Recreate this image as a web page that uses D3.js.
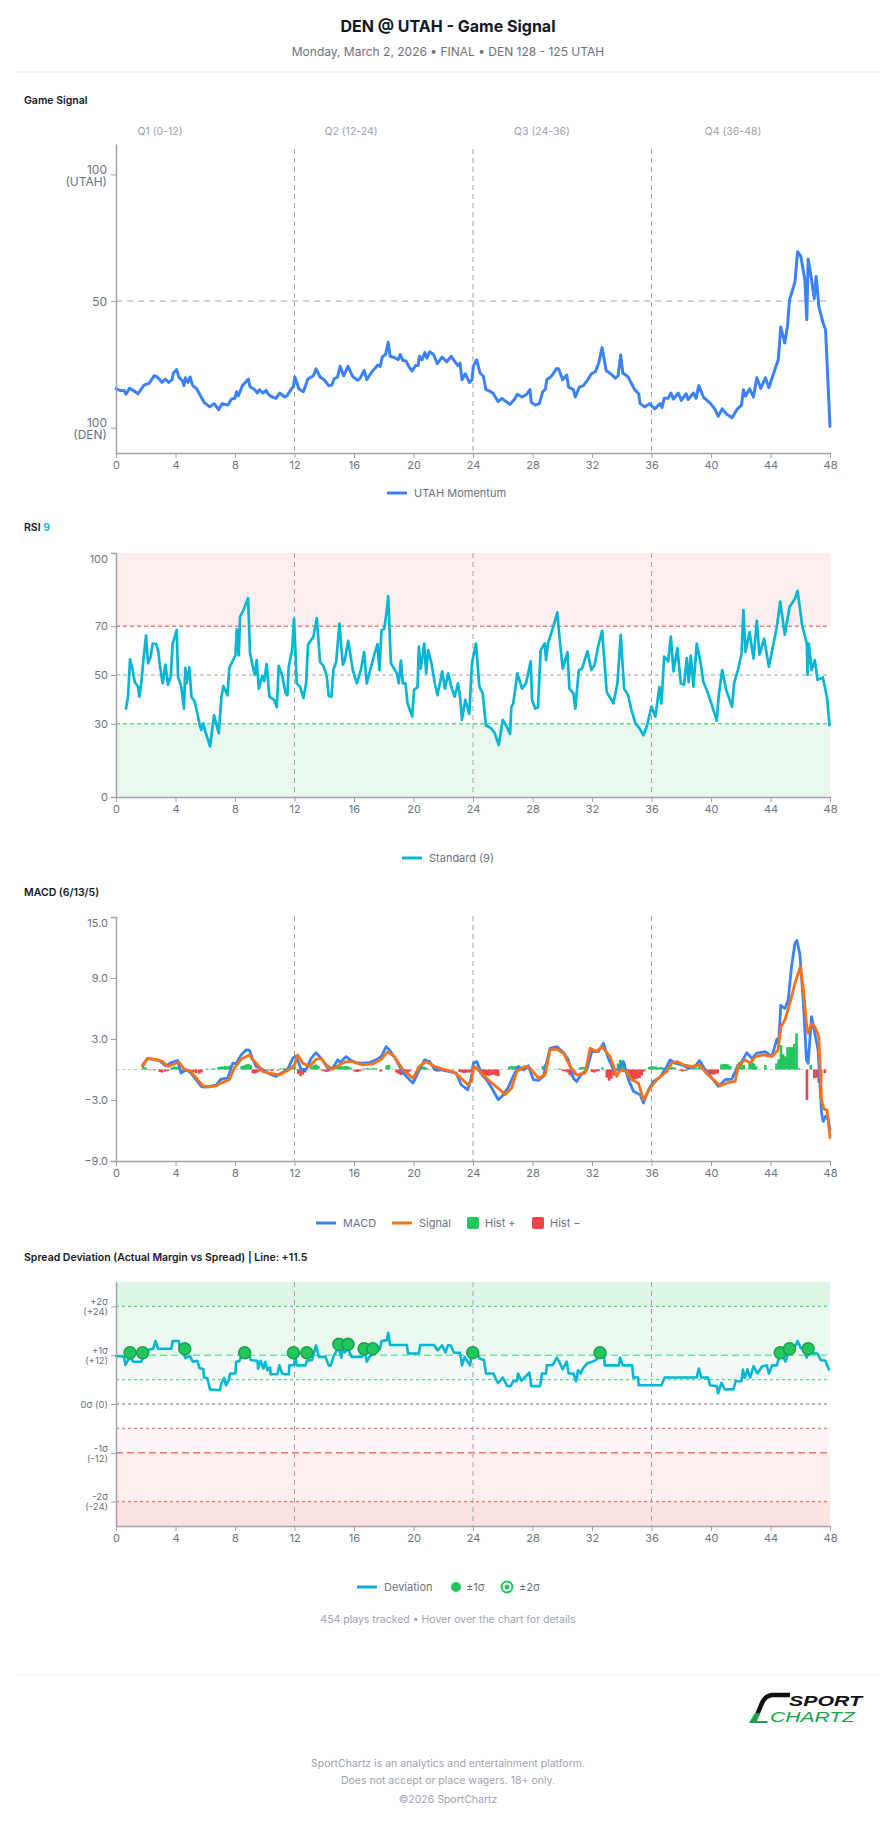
<!DOCTYPE html>
<html>
<head>
<meta charset="utf-8">
<script src="https://cdn.jsdelivr.net/npm/d3@7"></script>
<style>
  body { margin: 0; background: #fff; }
  svg text { font-family: Inter, "Noto Sans", sans-serif; }
  svg text.logo { font-family: "Liberation Sans", Arial, sans-serif; }
</style>
</head>
<body>
<svg id="chart" width="896" height="1824"></svg>
<script>
// Game signal page: momentum, RSI, MACD, spread deviation.

const xTicks = [0, 4, 8, 12, 16, 20, 24, 28, 32, 36, 40, 44, 48];
const quarterBreaks = [12, 24, 36];
const quarterLabels = ['Q1 (0-12)', 'Q2 (12-24)', 'Q3 (24-36)', 'Q4 (36-48)'];

// [minute, momentum 0 = DEN 100 .. 100 = UTAH 100]
const momentum = [
  [0,15.3],[0.27,14.7],[0.54,14.7],[0.67,13.2],[0.9,15.5],[1.17,14.7],[1.48,13.4],[1.88,16.8],[2.24,17.6],
  [2.56,20.5],[2.78,20],[3.09,17.9],[3.32,19.2],[3.54,17.9],[3.77,19],[3.86,21.6],[4.08,22.9],[4.22,20],
  [4.48,18.3],[4.57,16.6],[4.66,19.7],[4.84,17.9],[4.98,20],[5.16,16.6],[5.43,15.3],[5.65,12.9],[5.92,10],
  [6.3,8.2],[6.6,9.5],[6.9,7.1],[7.13,9.5],[7.53,8.9],[7.76,11.3],[8.0,11.6],[8.1,14.2],[8.23,12.6],
  [8.5,16.6],[8.9,19.2],[9.0,16.3],[9.33,15],[9.5,13.7],[9.64,15],[9.87,13.7],[10.1,14.7],[10.22,13.4],
  [10.4,12.4],[10.76,11.6],[11.0,13.7],[11.35,12.1],[11.5,12.6],[11.75,15],[11.93,16.3],[12.02,20],
  [12.15,17.9],[12.3,15.3],[12.6,14.2],[12.9,19.2],[13.27,20.5],[13.45,23.2],[13.72,20],[13.99,18.9],
  [14.3,16.6],[14.5,16.8],[14.66,19.2],[14.89,20],[15.07,24.2],[15.3,20.5],[15.6,24.2],[15.9,20.3],
  [16.24,18.7],[16.41,19.5],[16.68,22.6],[16.86,19],[17.17,21.8],[17.4,23.4],[17.6,24.7],[17.76,24.2],
  [17.9,27.9],[18.12,28.9],[18.3,33.7],[18.43,28.2],[18.74,27.6],[18.97,26.8],[19.1,28.9],[19.28,26.6],
  [19.5,26.3],[19.7,24],[19.9,22.4],[20.13,24.5],[20.31,24.5],[20.4,28.2],[20.58,26.8],[20.76,29.7],
  [20.9,27.4],[21.09,30],[21.35,28.9],[21.6,25.3],[21.92,27.9],[22.23,26],[22.54,28.2],[22.77,26.1],
  [22.99,24.5],[23.13,25.5],[23.26,18.9],[23.48,21.3],[23.75,17.9],[23.93,18.9],[24.02,24.2],[24.25,26.8],
  [24.47,21.6],[24.7,20.3],[24.87,15],[25.19,14.2],[25.37,13.4],[25.68,10.3],[25.95,11.6],[26.17,10.5],
  [26.49,9.2],[26.8,11.3],[26.98,13.2],[27.3,12.1],[27.61,13.2],[27.83,15],[27.92,10],[28.19,8.9],
  [28.46,9.5],[28.69,14.2],[28.87,15.3],[28.96,18.9],[29.27,20.3],[29.63,23.4],[29.76,23.2],[30.03,18.9],
  [30.3,20.8],[30.43,16],[30.75,15],[30.88,12.1],[31.15,16],[31.42,16.6],[31.69,18.7],[31.96,21.3],
  [32.23,22.1],[32.45,25.5],[32.68,31.6],[32.95,22.6],[33.3,21.1],[33.57,19.5],[33.75,20.5],[33.93,28.7],
  [34.07,21.6],[34.43,20],[34.87,15],[35.14,13.4],[35.23,9.5],[35.54,8.2],[35.86,9.5],[36.22,7.4],
  [36.58,9.5],[36.71,7.9],[36.85,11.6],[37.12,11.6],[37.3,13.7],[37.48,11.3],[37.79,13.7],[38.01,10.8],
  [38.33,13.4],[38.46,11.1],[38.82,13.7],[39.0,11.6],[39.18,16.6],[39.49,12.1],[39.94,9.7],[40.26,7.4],
  [40.48,4.5],[40.75,7.4],[41.06,5.3],[41.42,3.9],[41.73,7.1],[42.05,8.9],[42.18,15],[42.32,12.4],
  [42.59,15.3],[42.86,12.1],[43.08,19.7],[43.35,15.5],[43.66,19.7],[43.89,15.8],[44.29,22.9],[44.52,26.8],
  [44.69,39.7],[44.96,33.4],[45.14,40],[45.28,50.5],[45.64,57.4],[45.82,69.5],[46.04,67.6],[46.31,58.4],
  [46.44,42.6],[46.53,66.6],[46.76,58.4],[46.94,51],[47.07,59.7],[47.25,47.9],[47.52,41.6],[47.7,38.7],
  [48,0.5]
];

// [minute, RSI(9)]
const rsi = [
  [0.67,36.2],[0.81,41.1],[0.94,56.4],[1.12,52],[1.26,47.1],[1.48,45.2],[1.57,41.1],[1.7,46.6],[1.84,56.1],
  [2.02,66.2],[2.15,54.8],[2.33,57.5],[2.47,62.9],[2.69,62.7],[2.83,60.2],[2.96,53.4],[3.14,46.6],[3.32,54.2],
  [3.5,46],[3.68,49.3],[3.81,62.9],[4.08,68.4],[4.17,49.3],[4.39,45.2],[4.57,36.2],[4.66,52.9],[4.75,46.6],
  [4.93,53.1],[5.07,41.1],[5.29,39.2],[5.47,34.3],[5.65,28.9],[5.74,27.5],[5.87,30.2],[6.01,26.7],[6.19,23.4],
  [6.32,20.7],[6.59,33.5],[6.73,30.2],[6.91,26.2],[7.09,41.1],[7.22,45.5],[7.49,41.7],[7.62,52.9],[7.89,56.4],
  [8.03,58],[8.12,68.7],[8.25,58],[8.34,73.8],[8.57,76.6],[8.88,81.5],[9.01,58.9],[9.19,53.7],[9.33,50.1],
  [9.46,56.1],[9.6,44.4],[9.82,49.6],[9.96,47.4],[10.13,54.5],[10.31,41.1],[10.63,39.8],[10.81,36.8],
  [10.94,53.7],[11.17,49.9],[11.39,42.8],[11.52,41.7],[11.61,53.4],[11.84,60.2],[11.97,73],[12.15,46.6],
  [12.38,45],[12.6,40.6],[12.78,46.6],[12.91,62.4],[13.27,65.7],[13.5,73.3],[13.72,55.3],[13.95,53.7],
  [14.17,49.3],[14.3,41.4],[14.48,41.1],[14.62,52.3],[14.8,55.3],[15.02,71.1],[15.25,54.2],[15.38,56.1],
  [15.61,64],[15.92,52],[16.19,46.6],[16.46,52],[16.68,59.4],[16.86,46.6],[17.09,52],[17.35,58],[17.58,62.7],
  [17.71,52],[17.85,68.4],[18.03,68.9],[18.21,76.6],[18.3,82.3],[18.48,54.8],[18.88,50.7],[19.01,46.6],
  [19.15,55.9],[19.28,46.6],[19.46,46.6],[19.6,38.4],[19.91,33],[20.04,43.9],[20.27,45],[20.36,61.6],
  [20.49,52.6],[20.72,62.9],[20.85,50.7],[20.99,60.2],[21.21,54.8],[21.43,46.6],[21.61,41.7],[21.93,51.5],
  [22.11,44.4],[22.33,50.7],[22.54,45.2],[22.77,41.1],[22.99,46.6],[23.13,41.1],[23.26,31.6],[23.48,39.8],
  [23.75,34.1],[23.93,54.8],[24.2,62.9],[24.43,45.2],[24.65,42.5],[24.87,29.4],[25.23,28.1],[25.46,26.2],
  [25.73,21.3],[26.0,31.6],[26.26,28.9],[26.49,25.9],[26.58,36.8],[26.71,38.4],[26.98,50.7],[27.3,44.4],
  [27.57,46.6],[27.88,55.6],[27.97,39.8],[28.19,36.2],[28.37,36.8],[28.55,60.2],[28.82,62.9],[28.91,56.1],
  [29.04,62.9],[29.4,69.8],[29.67,75.7],[29.81,65.7],[30.03,52.6],[30.35,59.4],[30.48,44.4],[30.75,42.5],
  [30.88,36.2],[31.11,52],[31.33,52.6],[31.69,59.7],[31.96,52],[32.18,54.2],[32.41,61.6],[32.68,68.1],
  [32.99,43],[33.44,38.4],[33.71,46.6],[33.93,66.5],[34.16,44.4],[34.43,41.7],[34.65,35.7],[34.92,30.2],
  [35.19,28.1],[35.46,25.3],[35.68,28.9],[36.0,37.1],[36.26,33],[36.53,45],[36.67,38.4],[36.85,57.5],
  [37.12,55.6],[37.3,65.7],[37.48,51.5],[37.74,61],[37.97,46.6],[38.19,46],[38.37,56.9],[38.5,47.1],
  [38.64,58],[38.82,45.2],[39.04,62.9],[39.27,56.1],[39.49,47.1],[39.8,42.5],[40.16,35.7],[40.39,31.3],
  [40.52,41.7],[40.75,52],[41.02,43.9],[41.42,37],[41.55,46.6],[41.82,52.3],[42.05,58.6],[42.18,76.6],
  [42.32,59.4],[42.59,67.6],[42.86,56.7],[43.08,72.2],[43.26,58.3],[43.57,64.9],[43.89,53.4],[44.25,64.3],
  [44.43,69.8],[44.65,80.1],[44.96,66.5],[45.28,77.9],[45.64,81.2],[45.82,84.5],[46.13,70.3],[46.44,62.9],
  [46.49,50.1],[46.58,62.9],[46.76,52],[46.98,56.1],[47.16,48],[47.52,49],[47.79,41.1],[47.97,29.4]
];

// [minute, MACD]
const macd = [
  [1.79,0.46],[2.13,1.1],[2.47,1.0],[2.91,0.88],[3.36,0.36],[3.7,0.68],[4.15,0.88],[4.37,-0.36],[4.71,0],
  [5.04,-0.36],[5.38,-1.0],[5.72,-1.66],[5.94,-1.73],[6.28,-1.66],[6.73,-1.53],[7.06,-0.95],[7.51,-0.85],
  [7.85,0.62],[8.07,0.55],[8.41,1.43],[8.74,1.92],[8.97,1.9],[9.19,1.0],[9.42,0.3],[9.87,0],[10.2,-0.36],
  [10.76,-0.68],[11.1,-0.36],[11.55,0.03],[11.88,1.1],[12.11,1.34],[12.44,0],[12.78,0],[13.12,1.1],
  [13.45,1.66],[13.79,1.1],[14.24,0.13],[14.57,0.13],[14.91,0.95],[15.07,0.68],[15.47,1.27],[15.81,0.88],
  [16.14,0.68],[16.59,0.62],[17.04,0.68],[17.49,0.95],[17.83,1.27],[18.16,2.25],[18.39,1.92],[18.83,0.95],
  [19.28,-0.29],[19.73,-1.0],[19.96,-1.34],[20.29,-0.36],[20.74,0.95],[21.08,0.78],[21.41,0.03],[21.86,-0.03],
  [22.42,-0.2],[22.87,-0.36],[23.21,-1.5],[23.65,-2.0],[23.88,-0.85],[24.02,0.62],[24.25,0.78],[24.6,-0.52],
  [24.9,-1.0],[25.26,-1.83],[25.7,-2.97],[26.04,-2.48],[26.38,-1.73],[26.7,-0.68],[27.05,0.3],[27.39,-0.03],
  [27.72,0.36],[28.06,-1.0],[28.4,-1.08],[28.73,-0.68],[29.18,2.09],[29.63,2.25],[30.08,1.66],[30.41,0.95],
  [30.75,-0.85],[30.97,-1.17],[31.31,-0.42],[31.65,-0.03],[31.98,1.76],[32.43,1.76],[32.77,2.58],[33.1,1.1],
  [33.44,-0.03],[33.78,-0.03],[34.11,0.78],[34.45,-1.0],[34.79,-2.15],[35.24,-2.48],[35.46,-3.3],[35.8,-2.0],
  [36.13,-1.17],[36.58,-0.75],[37.03,0.3],[37.25,0.95],[37.59,0.62],[38.04,0.46],[38.49,0.13],[38.93,0.3],
  [39.23,0.88],[39.61,-0.03],[40.06,-0.85],[40.5,-1.66],[40.95,-1.0],[41.4,-0.95],[41.74,0.13],[42.07,0.78],
  [42.41,1.66],[42.75,1.1],[43.08,1.6],[43.64,1.76],[44.09,1.27],[44.43,3.0],[44.55,2.6],[44.69,6.3],
  [44.96,6.0],[45.19,6.8],[45.41,10.1],[45.64,12.4],[45.77,12.7],[45.97,11.4],[46.2,6.8],[46.42,0.95],
  [46.53,0.62],[46.76,5.2],[46.98,3.55],[47.2,1.92],[47.43,-4.27],[47.54,-5.1],[47.7,-4.6],[47.88,-4.9],[48,-5.9]
];

// [minute, signal]
const macdSignal = [
  [1.79,0.3],[2.13,1.1],[2.69,1.0],[3.14,0.78],[3.48,0.3],[4.04,0.62],[4.26,0.68],[4.6,0],[5.04,-0.2],
  [5.49,-1.0],[5.83,-1.6],[6.17,-1.73],[6.73,-1.6],[7.06,-1.34],[7.62,-1.0],[7.96,0.13],[8.41,1.0],
  [8.97,1.43],[9.19,0.95],[9.53,0.46],[9.87,-0.2],[10.31,-0.36],[10.99,-0.52],[11.66,0],[12.0,0.46],
  [12.22,1.43],[12.56,0.62],[13.0,0.3],[13.45,1.0],[13.79,1.1],[14.13,0.46],[14.57,0.03],[15.02,0.46],
  [15.47,0.78],[15.92,0.78],[16.59,0.46],[17.26,0.55],[17.83,1.0],[18.27,1.76],[18.72,1.27],[19.28,0],
  [19.96,-0.85],[20.4,0.3],[20.85,0.78],[21.41,0.3],[21.97,0.03],[22.65,-0.2],[23.09,-0.68],[23.65,-1.5],
  [23.88,-1.17],[24.07,0.3],[24.47,-0.2],[25.14,-1.17],[25.82,-2.0],[26.15,-2.48],[26.6,-1.83],[26.94,-0.2],
  [27.5,0.3],[27.84,0.13],[28.4,-0.85],[28.85,-0.52],[29.18,1.92],[29.63,2.0],[30.08,1.6],[30.53,0.3],
  [30.97,-0.52],[31.54,-0.36],[31.87,2.09],[32.32,1.76],[32.66,2.25],[33.22,1.27],[33.67,-0.68],[33.9,-0.03],
  [34.34,-0.2],[34.67,-1.0],[35.12,-1.34],[35.46,-2.97],[35.91,-1.83],[36.36,-1.0],[37.03,-0.2],[37.36,0.62],
  [37.7,0.78],[38.15,0.46],[38.71,0.3],[39.23,0.46],[39.72,-0.42],[40.17,-1.0],[40.62,-1.6],[41.18,-1.27],
  [41.63,-1.17],[41.85,0.46],[42.3,0.95],[42.63,0.62],[43.0,1.27],[43.53,1.43],[44.09,1.27],[44.5,1.9],
  [44.7,4.2],[44.96,4.86],[45.3,6.5],[45.64,8.45],[46.0,10.08],[46.2,8.1],[46.42,4.5],[46.53,3.55],
  [46.76,4.5],[46.98,4.2],[47.25,3.2],[47.43,-3.0],[47.6,-3.9],[47.8,-4.0],[48,-6.7]
];

// [minute, histogram]
const macdHist = [
  [1.85,0.25],[2.0,0.2],[2.3,-0.08],[2.6,-0.08],[2.95,-0.25],[3.1,-0.3],[3.3,-0.2],[3.5,-0.15],
  [3.75,0.2],[3.9,0.3],[4.05,0.3],[4.2,0.2],[4.5,-0.1],[4.7,-0.2],[4.85,-0.25],[5.0,-0.2],[5.2,-0.3],
  [5.4,-0.35],[5.6,-0.4],[5.75,-0.3],[6.1,0.1],[6.4,0.08],[6.6,0.1],[6.9,0.25],[7.05,0.3],[7.2,0.3],
  [7.35,0.35],[7.5,0.3],[7.65,0.4],[8.45,0.35],[8.6,0.4],[8.75,0.5],[8.9,0.55],[9.05,0.45],[9.2,-0.35],
  [9.35,-0.4],[9.5,-0.3],[9.65,-0.2],[9.8,-0.1],[10.1,-0.1],[10.3,-0.1],[10.5,-0.15],[10.9,-0.1],
  [11.1,0.1],[11.3,0.15],[11.5,0.1],[11.85,0.3],[12.0,0.35],[12.25,-0.45],[12.4,-0.65],[12.55,-0.5],
  [12.7,-0.3],[13.15,0.3],[13.3,0.45],[13.45,0.5],[13.6,0.35],[13.85,-0.1],[14.0,-0.2],[14.15,-0.25],
  [14.3,-0.2],[14.45,-0.1],[14.85,0.2],[15.0,0.3],[15.15,0.35],[15.3,0.3],[15.45,0.35],[15.6,0.3],
  [15.75,0.2],[16.05,-0.2],[16.2,-0.25],[16.35,-0.2],[16.5,-0.1],[16.7,0.1],[16.9,0.15],[17.1,0.1],
  [17.3,0.15],[17.5,0.1],[17.8,-0.2],[18.2,0.4],[18.35,0.45],[18.85,-0.3],[19.0,-0.45],[19.15,-0.55],
  [19.3,-0.5],[19.45,-0.4],[19.6,-0.35],[19.75,-0.2],[20.3,0.3],[20.45,0.35],[20.6,0.3],[20.75,0.25],
  [20.9,0.15],[21.4,-0.1],[21.55,-0.2],[21.7,-0.2],[21.9,-0.15],[22.1,-0.1],[23.1,-0.25],[23.25,-0.3],
  [23.4,-0.35],[23.55,-0.3],[23.7,-0.3],[23.85,-0.25],[24.0,0.45],[24.15,0.35],[24.5,-0.45],[24.65,-0.55],
  [24.8,-0.6],[24.95,-0.6],[25.1,-0.6],[25.25,-0.55],[25.4,-0.5],[25.55,-0.6],[25.7,-0.65],[26.45,0.3],
  [26.6,0.35],[26.75,0.3],[26.9,0.35],[27.4,0.1],[27.6,0.05],[28.7,0.35],[28.85,0.5],[29.8,0.1],
  [30.05,-0.15],[30.2,-0.2],[30.35,-0.3],[30.5,-0.55],[30.65,-0.75],[30.8,-0.5],[31.2,0.2],[31.35,0.25],
  [31.5,0.25],[31.65,0.3],[32.0,-0.25],[32.15,-0.3],[32.3,-0.2],[32.45,-0.15],[32.7,0.2],[33.0,-0.8],
  [33.15,-1.1],[33.3,-0.9],[33.45,-0.6],[33.75,0.6],[33.9,0.95],[34.05,0.9],[34.2,0.6],[34.45,-0.6],
  [34.6,-0.85],[34.75,-1.0],[34.9,-0.95],[35.05,-0.9],[35.2,-0.85],[35.35,-0.6],[35.5,-0.2],[35.85,0.25],
  [36.0,0.35],[36.15,0.3],[36.3,0.3],[36.45,0.2],[36.6,0.25],[36.75,0.2],[37.1,0.35],[37.25,0.35],
  [37.4,0.25],[37.55,0.2],[37.9,-0.1],[38.05,-0.2],[38.2,-0.15],[38.35,-0.1],[38.6,0.1],[38.8,0.2],
  [39.0,0.2],[39.2,0.3],[39.4,0.15],[39.55,-0.2],[39.7,-0.35],[39.85,-0.45],[40.0,-0.5],[40.15,-0.5],
  [40.3,-0.45],[40.45,-0.4],[40.7,0.5],[40.85,0.55],[41.0,0.55],[41.15,0.5],[41.3,0.35],[41.75,0.5],
  [41.9,0.75],[42.05,0.7],[42.2,0.45],[42.6,0.6],[42.75,0.85],[42.9,0.6],[43.05,0.3],[43.65,0.45],
  [44.4,0.6],[44.55,1.0],[44.7,2.4],[44.85,1.5],[45.0,1.3],[45.15,2.2],[45.3,2.2],[45.45,2.2],[45.6,2.5],
  [45.75,3.55],[45.9,0.15],[46.45,-3.0],[46.7,0.45],[46.95,-0.85],[47.1,-0.8],[47.25,-1.3],[47.4,-1.2],
  [47.65,-0.35]
];

// [minute, actual margin minus spread]
const deviation = [
  [0,11.8],[0.54,11.6],[0.63,9.6],[0.81,10.8],[0.99,11.4],[1.17,10.4],[1.7,10.4],[1.84,11.6],[2.24,13.4],
  [2.51,13.6],[2.65,15.5],[2.83,13.6],[3.72,13.6],[3.81,15.5],[4.22,15.5],[4.3,13.6],[4.57,12.4],[4.66,11.3],
  [4.97,11.8],[5.16,10.4],[5.47,10.6],[5.61,8.8],[5.87,8.6],[5.92,6.5],[6.14,6.4],[6.32,3.6],[6.99,3.4],
  [7.08,5.1],[7.26,6.4],[7.4,4.6],[7.58,5.9],[7.67,7.5],[8.03,7.5],[8.07,10.4],[8.3,10.6],[8.43,11.8],
  [8.97,11.8],[9.06,10.8],[9.51,10.6],[9.55,8.7],[9.73,10.6],[9.91,8.7],[10.04,10.4],[10.18,8.3],[10.36,9.0],
  [10.4,7.3],[10.85,7.3],[10.99,9.5],[11.17,7.5],[11.39,7.3],[11.61,7.3],[11.66,9.5],[11.97,9.6],[12.06,11.8],
  [12.15,9.5],[12.74,9.5],[12.83,10.6],[13.18,10.8],[13.45,14.4],[13.63,11.6],[14.08,11.6],[14.3,9.5],
  [14.44,9.5],[14.62,11.6],[14.84,13.2],[14.98,13.6],[15.16,11.4],[15.25,13.6],[15.38,12.7],[15.61,13.6],
  [15.83,11.6],[16.55,11.6],[16.68,13.6],[16.86,10.4],[17.04,11.6],[17.75,13.6],[17.85,15.5],[18.21,15.7],
  [18.3,17.5],[18.43,14.5],[19.55,14.5],[19.64,12.4],[20.36,12.4],[20.45,14.5],[21.39,14.5],[21.61,13.2],
  [21.93,14.4],[22.15,12.7],[22.33,14.5],[22.5,14.4],[22.72,12.6],[23.13,12.6],[23.26,9.5],[23.44,11.6],
  [23.57,10.8],[23.8,9.5],[23.93,12.6],[24.25,12.7],[24.47,11.1],[24.74,10.8],[24.87,7.5],[25.37,7.5],
  [25.68,5.1],[26.0,6.5],[26.31,4.4],[26.53,4.4],[26.71,5.6],[26.94,5.6],[27.03,7.5],[27.25,5.7],[27.52,6.7],
  [27.79,7.7],[27.92,4.4],[28.51,4.4],[28.64,7.5],[28.91,7.5],[28.96,9.5],[29.36,9.6],[29.63,11.4],
  [29.81,10.3],[30.03,8.5],[30.3,10.4],[30.43,7.5],[30.75,7.5],[30.93,5.6],[31.06,8.3],[31.24,7.5],
  [31.38,8.7],[31.69,10],[32.0,10.4],[32.27,10.8],[32.54,12.4],[32.81,11.6],[32.86,9.5],[33.8,9.5],
  [33.89,11.4],[34.07,9.5],[34.7,9.5],[34.78,6.5],[35.1,6.5],[35.14,4.6],[36.67,4.6],[36.89,6.5],
  [39.04,6.5],[39.18,8.7],[39.36,6.5],[39.8,6.5],[39.94,4.6],[40.39,4.4],[40.48,2.6],[40.7,5.2],[40.93,3.6],
  [41.51,3.6],[41.65,5.6],[42.05,5.6],[42.14,8.5],[42.27,6.4],[42.45,8.5],[42.63,6.5],[42.86,9.3],
  [43.13,7.5],[43.44,9.3],[43.75,9.5],[43.89,7.5],[44.11,9.5],[44.43,9.5],[44.65,12.6],[45.01,10.4],
  [45.28,13.6],[45.59,13.7],[45.82,15.5],[46.04,13.7],[46.22,13.6],[46.44,11.4],[46.67,13.6],[46.89,12.4],
  [47.16,12.4],[47.38,10.8],[47.7,10.6],[47.92,8.5]
];

// plays that crossed +1 sigma: [minute, deviation]
const sigmaHits = [
  [0.94,12.6],[1.79,12.6],[4.62,13.6],[8.65,12.6],[11.93,12.6],[12.83,12.6],[14.98,14.7],[15.6,14.7],
  [16.68,13.6],[17.26,13.6],[23.98,12.6],[32.54,12.6],[44.65,12.6],[45.28,13.6],[46.53,13.6]
];

const rsiTicks = [0, 30, 50, 70, 100];
const macdTicks = [-9, -3, 3, 9, 15];
const devTicks = [
  { v: 24, l: ['+2σ', '(+24)'] }, { v: 12, l: ['+1σ', '(+12)'] }, { v: 0, l: ['0σ (0)'] },
  { v: -12, l: ['-1σ', '(-12)'] }, { v: -24, l: ['-2σ', '(-24)'] }
];

const FONT = 'Inter, "Noto Sans", sans-serif';
const AX = '#a1a1aa', LBL = '#6b7280', SOFT = '#9ca3af';
const BLUE = '#3b82f6', CYAN = '#06b6d4', ORANGE = '#f97316', GREEN = '#22c55e', RED = '#ef4444';

const svg = d3.select('#chart');
const x = d3.scaleLinear().domain([0, 48]).range([116, 830]);

function txt(xp, yp, s, o = {}) {
  return svg.append('text').attr('x', xp).attr('y', yp).attr('dy', '0.35em')
    .attr('text-anchor', o.anchor || 'start').attr('font-size', o.size || 11)
    .attr('font-weight', o.weight || 400).attr('fill', o.fill || LBL).text(s);
}

function styleAxis(g, size) {
  g.attr('font-family', FONT).attr('font-size', size || 11);
  g.select('.domain').attr('stroke', AX).attr('stroke-width', 1.5);
  g.selectAll('.tick line').attr('stroke', AX);
  g.selectAll('.tick text').attr('fill', LBL);
}

function xAxis(y0) {
  const g = svg.append('g').attr('transform', `translate(0,${y0})`)
    .call(d3.axisBottom(x).tickValues(xTicks).tickSize(5).tickSizeOuter(0));
  styleAxis(g);
}

function quarterLines(top, bottom) {
  svg.append('g').selectAll('line').data(quarterBreaks).join('line')
    .attr('x1', d => x(d)).attr('x2', d => x(d)).attr('y1', top).attr('y2', bottom)
    .attr('stroke', SOFT).attr('stroke-width', 1).attr('stroke-dasharray', '5,4');
}

function hline(y, color, dash, width) {
  svg.append('line').attr('x1', x(0)).attr('x2', x(48)).attr('y1', y).attr('y2', y)
    .attr('stroke', color).attr('stroke-width', width || 1).attr('stroke-dasharray', dash);
}

function band(y0, y1, fill) {
  svg.append('rect').attr('x', x(0)).attr('width', x(48) - x(0))
    .attr('y', Math.min(y0, y1)).attr('height', Math.abs(y1 - y0)).attr('fill', fill);
}

function path(data, y, color, w) {
  svg.append('path').datum(data)
    .attr('d', d3.line().x(d => x(d[0])).y(d => y(d[1])))
    .attr('fill', 'none').attr('stroke', color).attr('stroke-width', w || 2.6)
    .attr('stroke-linejoin', 'round').attr('stroke-linecap', 'round');
}

function legendLine(x0, y0, color, label) {
  svg.append('line').attr('x1', x0).attr('x2', x0 + 20).attr('y1', y0).attr('y2', y0)
    .attr('stroke', color).attr('stroke-width', 3);
  txt(x0 + 27, y0, label, { size: 11 });
}

// ---- header ----
txt(448, 26, 'DEN @ UTAH - Game Signal', { anchor: 'middle', size: 16, weight: 700, fill: '#111827' });
txt(448, 52, 'Monday, March 2, 2026 • FINAL • DEN 128 - 125 UTAH', { anchor: 'middle', size: 12, fill: LBL });
svg.append('line').attr('x1', 16).attr('x2', 880).attr('y1', 72).attr('y2', 72)
  .attr('stroke', '#e5e7eb').attr('stroke-width', 1);

// ---- Game Signal ----
txt(24, 100, 'Game Signal', { size: 10.5, weight: 600, fill: '#111827' });
const qBand = d3.scaleBand().domain(quarterLabels).range([64.5, 828.5]);
quarterLabels.forEach(q => txt(qBand(q) + qBand.bandwidth() / 2, 131, q, { anchor: 'middle', size: 10.5, fill: SOFT }));

const yG = d3.scaleLinear().domain([-10, 112]).range([453, 144]);
hline(yG(50), SOFT, '6,5', 1);
quarterLines(149, 453);
path(momentum, yG, BLUE, 3);
xAxis(453);
const gy = svg.append('g').attr('transform', `translate(${x(0)},0)`)
  .call(d3.axisLeft(yG).tickValues([100, 50, 0]).tickSize(5).tickSizeOuter(0).tickFormat(''));
styleAxis(gy, 12);
gy.selectAll('.tick').each(function (d) {
  const lines = d === 50 ? ['50'] : ['100', d === 100 ? '(UTAH)' : '(DEN)'];
  const t = d3.select(this).append('text').attr('fill', LBL).attr('text-anchor', 'end').attr('x', -9);
  lines.forEach((s, i) => t.append('tspan').attr('x', -9)
    .attr('y', lines.length === 1 ? 0 : (i === 0 ? -5 : 7)).attr('dy', '0.35em').text(s));
});
legendLine(387, 493, BLUE, 'UTAH Momentum');

// ---- RSI ----
const rsiTitle = txt(24, 527, 'RSI ', { size: 10.5, weight: 600, fill: '#111827' });
rsiTitle.append('tspan').attr('fill', CYAN).text('9');
const yR = d3.scaleLinear().domain([0, 100]).range([797, 553]);
band(yR(70), yR(100), '#fdeded');
band(yR(0), yR(30), '#e9f7ef');
hline(yR(70), RED, '4,3', 1);
hline(yR(30), GREEN, '4,3', 1);
hline(yR(50), SOFT, '4,3', 1);
quarterLines(553, 797);
path(rsi, yR, CYAN, 2.7);
xAxis(797);
const ry = svg.append('g').attr('transform', `translate(${x(0)},0)`)
  .call(d3.axisLeft(yR).tickValues(rsiTicks).tickSize(5).tickSizeOuter(5));
styleAxis(ry);
ry.selectAll('.tick text').filter(d => d === 100).attr('dy', '0.9em');
legendLine(402, 858, CYAN, 'Standard (9)');

// ---- MACD ----
txt(24, 892, 'MACD (6/13/5)', { size: 10.5, weight: 600, fill: '#111827' });
const yM = d3.scaleLinear().domain([-9, 15]).range([1161, 917]);
hline(yM(0), '#c4c4c8', '3,3', 1.2);
quarterLines(916, 1161);
svg.append('g').selectAll('rect').data(macdHist).join('rect')
  .attr('x', d => x(d[0]) - 1.3).attr('width', 2.6)
  .attr('y', d => yM(Math.max(0, d[1]))).attr('height', d => Math.abs(yM(d[1]) - yM(0)))
  .attr('fill', d => d[1] >= 0 ? GREEN : RED);
path(macd, yM, BLUE, 2.8);
path(macdSignal, yM, ORANGE, 2.8);
xAxis(1161);
const my = svg.append('g').attr('transform', `translate(${x(0)},0)`)
  .call(d3.axisLeft(yM).tickValues(macdTicks).tickSize(5).tickSizeOuter(5).tickFormat(d3.format('.1f')));
styleAxis(my);
my.selectAll('.tick text').filter(d => d === 15).attr('dy', '0.9em');
legendLine(316, 1223, BLUE, 'MACD');
legendLine(392, 1223, ORANGE, 'Signal');
svg.append('rect').attr('x', 467).attr('y', 1217).attr('width', 12).attr('height', 12).attr('rx', 2).attr('fill', GREEN);
txt(485, 1223, 'Hist +', { size: 11 });
svg.append('rect').attr('x', 532).attr('y', 1217).attr('width', 12).attr('height', 12).attr('rx', 2).attr('fill', RED);
txt(550, 1223, 'Hist −', { size: 11 });

// ---- Spread Deviation ----
txt(24, 1257, 'Spread Deviation (Actual Margin vs Spread) | Line: +11.5', { size: 10.5, weight: 600, fill: '#111827' });
const yD = d3.scaleLinear().domain([-30, 30]).range([1526, 1282]);
band(yD(30), yD(24), '#dcf5e4');
band(yD(24), yD(12), '#eaf8ef');
band(yD(12), yD(6), '#f4fbf6');
band(yD(-6), yD(-12), '#fef6f6');
band(yD(-12), yD(-24), '#fdeeee');
band(yD(-24), yD(-30), '#fde2e2');
hline(yD(24), '#4ade80', '3,3', 1.2);
hline(yD(12), '#6ee7a0', '7,4', 1.4);
hline(yD(6), '#4ade80', '3,3', 1.2);
hline(yD(0), SOFT, '3,3', 1.6);
hline(yD(-6), '#f87171', '3,3', 1.2);
hline(yD(-12), '#f87171', '7,4', 1.4);
hline(yD(-24), '#f87171', '3,3', 1.2);
quarterLines(1282, 1526);
path(deviation, yD, CYAN, 2.6);
svg.append('g').selectAll('circle').data(sigmaHits).join('circle')
  .attr('cx', d => x(d[0])).attr('cy', d => yD(d[1])).attr('r', 6)
  .attr('fill', GREEN).attr('stroke', '#16a34a').attr('stroke-width', 1.5);
xAxis(1526);
const dy = svg.append('g').attr('transform', `translate(${x(0)},0)`)
  .call(d3.axisLeft(yD).tickValues(devTicks.map(d => d.v)).tickSize(5).tickSizeOuter(0).tickFormat(''));
styleAxis(dy, 9.5);
dy.selectAll('.tick').each(function (v) {
  const lines = devTicks.find(d => d.v === v).l;
  const t = d3.select(this).append('text').attr('fill', LBL).attr('text-anchor', 'end');
  lines.forEach((s, i) => t.append('tspan').attr('x', -8)
    .attr('y', lines.length === 1 ? 0 : (i === 0 ? -5 : 5)).attr('dy', '0.35em').text(s));
});
legendLine(357, 1587, CYAN, 'Deviation');
svg.append('circle').attr('cx', 456).attr('cy', 1587).attr('r', 5).attr('fill', GREEN);
txt(466, 1587, '±1σ', { size: 11 });
svg.append('circle').attr('cx', 507).attr('cy', 1587).attr('r', 5.5).attr('fill', 'none').attr('stroke', GREEN).attr('stroke-width', 2);
svg.append('circle').attr('cx', 507).attr('cy', 1587).attr('r', 2.5).attr('fill', GREEN);
txt(519, 1587, '±2σ', { size: 11 });
txt(448, 1619, '454 plays tracked • Hover over the chart for details', { anchor: 'middle', size: 10.5, fill: SOFT });

// ---- footer ----
svg.append('line').attr('x1', 16).attr('x2', 880).attr('y1', 1675).attr('y2', 1675)
  .attr('stroke', '#eceef1').attr('stroke-width', 1);
svg.append('path').attr('d', 'M790,1695 L772,1695 Q765,1696 762,1703 L757,1715')
  .attr('fill', 'none').attr('stroke', '#111').attr('stroke-width', 4.5).attr('stroke-linecap', 'butt');
svg.append('path').attr('d', 'M755,1713 L760,1713 L757,1721 L768,1721 L767,1723 L749,1723 Z').attr('fill', '#16a34a');
svg.append('text').attr('class', 'logo').attr('x', 789).attr('y', 1706).attr('font-size', 14)
  .attr('font-weight', 700).attr('font-style', 'italic').attr('fill', '#111')
  .attr('textLength', 73).attr('lengthAdjust', 'spacingAndGlyphs').text('SPORT');
svg.append('text').attr('class', 'logo').attr('x', 770).attr('y', 1722).attr('font-size', 14)
  .attr('font-weight', 400).attr('font-style', 'italic').attr('fill', '#16a34a')
  .attr('textLength', 85).attr('lengthAdjust', 'spacingAndGlyphs').text('CHARTZ');
txt(448, 1763, 'SportChartz is an analytics and entertainment platform.', { anchor: 'middle', size: 10.5, fill: SOFT });
txt(448, 1780, 'Does not accept or place wagers. 18+ only.', { anchor: 'middle', size: 10.5, fill: SOFT });
txt(448, 1799, '©2026 SportChartz', { anchor: 'middle', size: 10.5, fill: SOFT });
</script>
</body>
</html>
